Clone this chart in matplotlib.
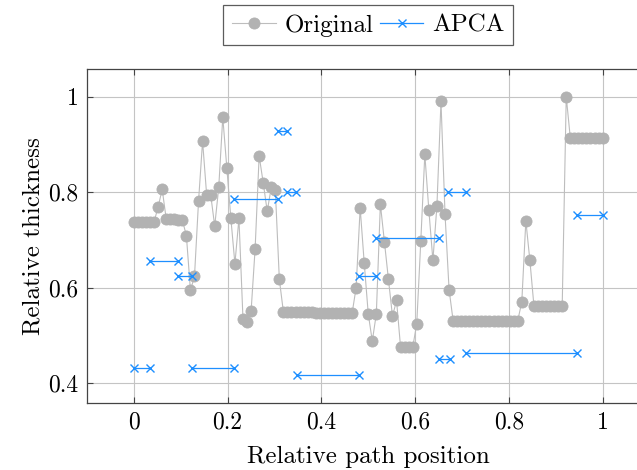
import numpy as np
import matplotlib
matplotlib.use("Agg")
import matplotlib.pyplot as plt

plt.rcParams["font.family"] = "serif"
plt.rcParams["font.serif"] = ["cmr10"]
plt.rcParams["axes.formatter.use_mathtext"] = True
plt.rcParams["mathtext.fontset"] = "cm"

# Original thickness profile sampled along the path
original = [
    0.738, 0.738, 0.738, 0.738, 0.738, 0.738,
    0.769, 0.806,
    0.744, 0.743, 0.743, 0.742, 0.742,
    0.708, 0.594, 0.624, 0.781, 0.907, 0.795, 0.795, 0.729, 0.810, 0.957,
    0.851, 0.745, 0.650, 0.745, 0.534, 0.528, 0.550, 0.681, 0.876, 0.820,
    0.760, 0.810, 0.805, 0.617,
    0.549, 0.549, 0.549, 0.548, 0.548, 0.548, 0.548, 0.548, 0.547,
    0.547, 0.547, 0.547, 0.547, 0.546, 0.546, 0.546, 0.546, 0.546,
    0.600, 0.767, 0.652, 0.545, 0.488, 0.545, 0.775, 0.696, 0.617, 0.540, 0.573,
    0.475, 0.475, 0.475, 0.475,
    0.524, 0.697, 0.879, 0.762, 0.657, 0.772, 0.990, 0.754, 0.596,
    0.531, 0.531, 0.531, 0.531, 0.531, 0.531, 0.531, 0.531, 0.531,
    0.531, 0.531, 0.531, 0.531, 0.531, 0.531, 0.531, 0.531,
    0.570, 0.740, 0.657,
    0.562, 0.562, 0.562, 0.562, 0.562, 0.562, 0.562, 0.562,
    1.000,
    0.914, 0.914, 0.914, 0.914, 0.914, 0.914, 0.914, 0.914, 0.914,
]
position = np.linspace(0.0, 1.0, len(original))

# APCA approximation: one constant level per segment
apca_start = [0.000, 0.035, 0.095, 0.124, 0.2135, 0.308, 0.327, 0.347,
              0.481, 0.516, 0.650, 0.670, 0.708, 0.945]
apca_end = [0.035, 0.095, 0.124, 0.2135, 0.307, 0.326, 0.346, 0.481,
            0.516, 0.651, 0.674, 0.708, 0.945, 1.000]
apca_value = [0.432, 0.655, 0.624, 0.432, 0.785, 0.928, 0.800, 0.416,
              0.624, 0.704, 0.451, 0.800, 0.464, 0.752]

xticks = [0, 0.2, 0.4, 0.6, 0.8, 1]
xtick_labels = ["0", "0.2", "0.4", "0.6", "0.8", "1"]
yticks = [0.4, 0.6, 0.8, 1.0]
ytick_labels = ["0.4", "0.6", "0.8", "1"]

# segments separated by NaN so they are drawn as disjoint pieces
ax_x, ax_y = [], []
for s, e, v in zip(apca_start, apca_end, apca_value):
    ax_x += [s, e, np.nan]
    ax_y += [v, v, np.nan]

fig = plt.figure(figsize=(6.37, 4.70), dpi=100)
ax = fig.add_axes([0.1366, 0.1419, 0.883, 0.7117])

gray_line = "#bdbdbd"
gray_mark = "#b2b2b2"
blue = "#1e8fff"

ax.plot(position, original, color=gray_line, lw=0.8, marker="o", ms=8,
        mfc=gray_mark, mec=gray_mark, mew=0.6, label="Original", zorder=3)
ax.plot(ax_x, ax_y, color=blue, lw=0.9, marker="x", ms=5.5, mew=1.0,
        label="APCA", zorder=4)

ymin, ymax = min(min(original), min(apca_value)), max(max(original), max(apca_value))
pad = 0.1 * (ymax - ymin)
ax.set_xlim(-0.1, 1.1)
ax.set_ylim(ymin - pad, ymax + pad)

ax.set_xticks(xticks)
ax.set_xticklabels(xtick_labels)
ax.set_yticks(yticks)
ax.set_yticklabels(ytick_labels)
ax.tick_params(direction="in", length=4, width=0.8, color="#444444",
               top=True, right=True, labelsize=17, pad=6)
ax.grid(True, color="#c4c4c4", lw=0.8)
ax.set_axisbelow(True)
for sp in ax.spines.values():
    sp.set_color("#444444")
    sp.set_linewidth(0.9)

ax.set_xlabel("Relative path position", fontsize=18, labelpad=9)
ax.set_ylabel("Relative thickness", fontsize=18, labelpad=3)

leg = ax.legend(loc="lower center", bbox_to_anchor=(0.5, 1.07), ncol=2,
                frameon=True, fancybox=False, edgecolor="#333333",
                fontsize=18, handlelength=1.75, columnspacing=0.25,
                handletextpad=0.35, borderpad=0.35, borderaxespad=0.0)
leg.get_frame().set_linewidth(0.9)

fig.savefig("out.png", dpi=100)
